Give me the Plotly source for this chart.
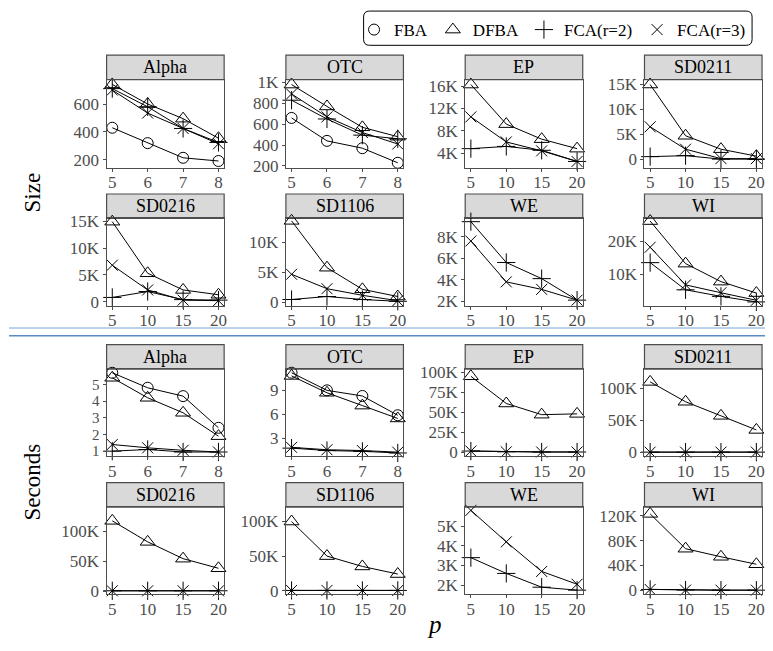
import plotly.graph_objects as go

# page body has an 8px default margin; lay out in page pixels and compensate
OFF = 8
W, H = 773 - OFF, 651 - OFF

# ---------------- data ----------------
p_small = [5, 6, 7, 8]
p_large = [5, 10, 15, 20]
top_sets = ["Alpha", "OTC", "EP", "SD0211"]
bottom_sets = ["SD0216", "SD1106", "WE", "WI"]
methods = ["FBA", "DFBA", "FCA(r=2)", "FCA(r=3)"]

size_fba = {"Alpha": [430, 320, 215, 192], "OTC": [660, 440, 370, 230]}
size_dfba = {"Alpha": [740, 600, 495, 355], "OTC": [980, 770, 570, 480],
             "EP": [16300, 9200, 6500, 4800], "SD0211": [15000, 4700, 2000, 600],
             "SD0216": [14900, 5300, 2200, 1300], "SD1106": [13600, 5800, 2200, 1000],
             "WI": [26200, 13200, 7700, 4200]}
size_fca2 = {"Alpha": [710, 580, 425, 325], "OTC": [830, 650, 495, 460],
             "EP": [4800, 5200, 4500, 2500], "SD0211": [500, 700, 0, 0],
             "SD0216": [800, 1900, 400, 300], "SD1106": [500, 1000, 500, 200],
             "WE": [9400, 5600, 4100, 2100], "WI": [13500, 5200, 3200, 1500]}
size_fca3 = {"Alpha": [700, 535, 425, 315], "OTC": [890, 670, 520, 410],
             "EP": [10500, 6000, 4400, 2500], "SD0211": [6500, 2000, 100, 100],
             "SD0216": [6800, 2200, 300, 200], "SD1106": [4700, 2300, 1200, 300],
             "WE": [7600, 3800, 3100, 2100], "WI": [18200, 6700, 4300, 2000]}

sec_fba = {"Alpha": [5.7, 4.8, 4.3, 2.4], "OTC": [11.2, 9.0, 8.3, 5.9]}
sec_dfba = {"Alpha": [5.4, 4.2, 3.3, 1.9], "OTC": [10.8, 8.7, 7.1, 5.5],
            "EP": [95000, 61000, 47000, 48000], "SD0211": [110000, 79000, 57000, 35000],
            "SD0216": [117000, 82000, 54000, 38000], "SD1106": [100000, 50000, 35000, 24000],
            "WI": [123000, 67000, 54000, 42000]}
sec_fca2 = {"Alpha": [1.0, 1.1, 0.95, 0.95], "OTC": [1.8, 1.5, 1.4, 1.2],
            "EP": [1500, 500, 300, 300], "SD0211": [300, 300, 300, 300],
            "SD0216": [500, 500, 500, 500], "SD1106": [300, 300, 300, 300],
            "WE": [3400, 2600, 1900, 1750], "WI": [1500, 500, 300, 300]}
sec_fca3 = {"Alpha": [1.4, 1.2, 1.05, 0.95], "OTC": [1.9, 1.6, 1.5, 1.3],
            "EP": [1500, 500, 300, 300], "SD0211": [300, 300, 300, 300],
            "SD0216": [500, 500, 500, 500], "SD1106": [300, 300, 300, 300],
            "WE": [5800, 4200, 2700, 2050], "WI": [1500, 500, 300, 300]}

# y tick labels
size_ticks = {"Alpha": ([200, 400, 600], ["200", "400", "600"]),
              "OTC": ([200, 400, 600, 800, 1000], ["200", "400", "600", "800", "1K"]),
              "EP": ([4000, 8000, 12000, 16000], ["4K", "8K", "12K", "16K"]),
              "SD0211": ([0, 5000, 10000, 15000], ["0", "5K", "10K", "15K"]),
              "SD0216": ([0, 5000, 10000, 15000], ["0", "5K", "10K", "15K"]),
              "SD1106": ([0, 5000, 10000], ["0", "5K", "10K"]),
              "WE": ([2000, 4000, 6000, 8000], ["2K", "4K", "6K", "8K"]),
              "WI": ([10000, 20000], ["10K", "20K"])}
sec_ticks = {"Alpha": ([1, 2, 3, 4, 5], ["1", "2", "3", "4", "5"]),
             "OTC": ([3, 6, 9], ["3", "6", "9"]),
             "EP": ([0, 25000, 50000, 75000, 100000], ["0", "25K", "50K", "75K", "100K"]),
             "SD0211": ([0, 50000, 100000], ["0", "50K", "100K"]),
             "SD0216": ([0, 50000, 100000], ["0", "50K", "100K"]),
             "SD1106": ([0, 50000, 100000], ["0", "50K", "100K"]),
             "WE": ([2000, 3000, 4000, 5000], ["2K", "3K", "4K", "5K"]),
             "WI": ([0, 40000, 80000, 120000], ["0", "40K", "80K", "120K"])}

# ---------------- styling / layout ----------------
size_ranges = {"Alpha": [145, 775], "OTC": [184, 1028], "EP": [1400, 17200],
               "SD0211": [-1700, 16000], "SD0216": [-700, 15500], "SD1106": [-500, 14000],
               "WE": [1600, 9700], "WI": [400, 27000]}
sec_ranges = {"Alpha": [0.7, 5.92], "OTC": [0.8, 11.65], "EP": [-4900, 104000],
              "SD0211": [-6000, 130000], "SD0216": [-5000, 140000], "SD1106": [-5000, 121000],
              "WE": [1550, 5970], "WI": [-6000, 134000]}

symbols = {"FBA": ("circle-open", 11), "DFBA": ("triangle-up-open", 13),
           "FCA(r=2)": ("cross-thin-open", 13), "FCA(r=3)": ("x-thin-open", 11)}

col_x = [(107, 225), (287, 405), (467, 585), (647, 765)]
row_y = [(75, 165), (217, 306), (371, 460), (512, 601)]
STRIP = 25
AX = "#4d4d4d"
FONT = "'Liberation Serif', 'Times New Roman', Times, serif"


def px(x):
    return (x - OFF) / W


def py(y):
    return 1 - (y - OFF) / H


fig = go.Figure()
layout = dict(width=W, height=H, margin=dict(l=0, r=0, t=0, b=0),
              paper_bgcolor="white", plot_bgcolor="white", showlegend=True,
              font=dict(family=FONT, color="black"))
shapes, annotations = [], []

panels = []
for metric, series, ticks, ranges in [
        ("size", [size_fba, size_dfba, size_fca2, size_fca3], size_ticks, size_ranges),
        ("sec", [sec_fba, sec_dfba, sec_fca2, sec_fca3], sec_ticks, sec_ranges)]:
    for r, sets in enumerate([top_sets, bottom_sets]):
        for c, name in enumerate(sets):
            panels.append((metric, r, c, name, series, ticks, ranges))

for k, (metric, r, c, name, series, ticks, ranges) in enumerate(panels, start=1):
    row = r + (2 if metric == "sec" else 0)
    x0, x1 = col_x[c]
    y0, y1 = row_y[row]
    xs = p_small if name in ("Alpha", "OTC") else p_large
    xr = [4.84, 8.16] if name in ("Alpha", "OTC") else [4.2, 20.8]
    xa = "x" if k == 1 else f"x{k}"
    ya = "y" if k == 1 else f"y{k}"
    for m, data in zip(methods, series):
        if name in data:
            sym, sz = symbols[m]
            fig.add_trace(go.Scatter(
                x=xs, y=data[name], mode="lines+markers", xaxis=xa, yaxis=ya,
                name=m, showlegend=False, cliponaxis=False,
                line=dict(color="black", width=1),
                marker=dict(symbol=sym, size=sz, color="black",
                            line=dict(color="black", width=1))))
    axis_common = dict(showline=True, mirror=True, linecolor=AX, linewidth=1.2,
                       ticks="outside", ticklen=3, tickcolor=AX, showgrid=False,
                       zeroline=False)
    layout[f"xaxis{k}" if k > 1 else "xaxis"] = dict(
        domain=[px(x0), px(x1)], anchor=ya, range=xr, tickvals=xs,
        ticktext=[str(v) for v in xs], ticklabelstandoff=-4,
        tickfont=dict(family=FONT, size=17, color=AX), **axis_common)
    tv, tt = ticks[name]
    ysize = 15 if (metric == "sec" and name == "Alpha") else 17
    layout[f"yaxis{k}" if k > 1 else "yaxis"] = dict(
        domain=[py(y1), py(y0)], anchor=xa, range=ranges[name],
        tickvals=tv, ticktext=tt,
        tickfont=dict(family=FONT, size=ysize, color=AX), **axis_common)
    # strip
    shapes.append(dict(type="rect", xref="paper", yref="paper",
                       x0=px(x0), x1=px(x1), y0=py(y0), y1=py(y0 - STRIP),
                       fillcolor="#d9d9d9", line=dict(color=AX, width=1.2), layer="below"))
    annotations.append(dict(text=name, xref="paper", yref="paper", showarrow=False,
                            x=px((x0 + x1) / 2), y=py(y0 - STRIP / 2),
                            xanchor="center", yanchor="middle",
                            font=dict(family=FONT, size=18, color="black")))

# legend-only entries
for m in methods:
    sym, sz = symbols[m]
    fig.add_trace(go.Scatter(x=[None], y=[None], mode="markers", name=m,
                             marker=dict(symbol=sym, size=sz, color="black",
                                         line=dict(color="black", width=1))))

layout["legend"] = dict(orientation="h", x=px(754), xanchor="right", y=py(6),
                        yanchor="top", bgcolor="rgba(0,0,0,0)", borderwidth=0,
                        font=dict(family=FONT, size=17, color="black"),
                        itemwidth=30, tracegroupgap=0)

# rounded legend box
lx0, lx1, ly0, ly1, rr = 365, 755, 5, 40, 6
X0, X1 = px(lx0), px(lx1)
Yt, Yb = py(ly0), py(ly1)
rx, ry = rr / W, rr / H
path = (f"M {X0+rx},{Yt} L {X1-rx},{Yt} Q {X1},{Yt} {X1},{Yt-ry} L {X1},{Yb+ry} "
        f"Q {X1},{Yb} {X1-rx},{Yb} L {X0+rx},{Yb} Q {X0},{Yb} {X0},{Yb+ry} "
        f"L {X0},{Yt-ry} Q {X0},{Yt} {X0+rx},{Yt} Z")
shapes.append(dict(type="path", path=path, xref="paper", yref="paper",
                   line=dict(color="black", width=1)))

# separators between Size and Seconds blocks
shapes.append(dict(type="line", xref="paper", yref="paper", x0=px(9), x1=1,
                   y0=py(329), y1=py(329), line=dict(color="#a6c2e3", width=1.5)))
shapes.append(dict(type="line", xref="paper", yref="paper", x0=px(9), x1=1,
                   y0=py(337), y1=py(337), line=dict(color="#5b8ac6", width=1.5)))

annotations.append(dict(text="Size", xref="paper", yref="paper", showarrow=False,
                        x=px(33), y=py(190.5), textangle=-90,
                        xanchor="center", yanchor="middle",
                        font=dict(family=FONT, size=23, color="black")))
annotations.append(dict(text="Seconds", xref="paper", yref="paper", showarrow=False,
                        x=px(33), y=py(486), textangle=-90,
                        xanchor="center", yanchor="middle",
                        font=dict(family=FONT, size=23, color="black")))
annotations.append(dict(text="<i>p</i>", xref="paper", yref="paper", showarrow=False,
                        x=px(436), y=py(632), xanchor="center", yanchor="middle",
                        font=dict(family=FONT, size=25, color="black")))

layout["shapes"] = shapes
layout["annotations"] = annotations
fig.update_layout(**layout)
fig.write_html("out.html")
